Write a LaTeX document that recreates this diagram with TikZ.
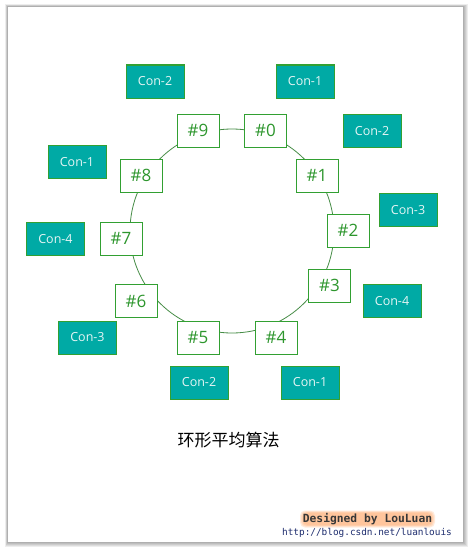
\documentclass[tikz,border=0pt]{standalone}
\usepackage{fontspec}
\setmainfont{Open Sans}
\newfontfamily\cjkfont{Noto Sans CJK SC}
\newfontfamily\wmfont{DejaVu Sans Mono}
\definecolor{boxgreen}{RGB}{50,160,50}
\definecolor{hashgreen}{RGB}{45,150,45}
\definecolor{ringgreen}{RGB}{70,140,70}
\definecolor{tealfill}{RGB}{0,170,165}
\definecolor{context}{RGB}{230,245,245}
\definecolor{glow}{RGB}{255,165,100}
\definecolor{wmdark}{RGB}{55,55,55}
\definecolor{urlblue}{RGB}{30,45,110}
\begin{document}
\begin{tikzpicture}[x=1pt,y=-1pt,
  hashbox/.style={draw=boxgreen, line width=1pt, fill=white, minimum width=42pt, minimum height=33pt, inner sep=0pt, text=hashgreen, font=\fontsize{17}{17}\selectfont},
  conbox/.style={draw=boxgreen, line width=1pt, fill=tealfill, minimum width=58pt, minimum height=33pt, inner sep=0pt, text=context, font=\fontsize{12.5}{12.5}\selectfont},
  glowlayer/.style={fill=glow, opacity=0.22, rounded corners=5pt}]
\useasboundingbox (0,0) rectangle (471,551);
\fill[white] (0,0) rectangle (471,551);
% panel shadow
\foreach \i in {5,4,3,2,1} {
  \fill[black, opacity=0.07] (8-\i*0.6,7-\i*0.6) rectangle (463+\i,542+\i);
}
\fill[white] (8,7) rectangle (463,542);
% ring
\draw[ringgreen, line width=0.8pt] (232,231) circle[radius=102pt];
% hash nodes
\node[hashbox] (n9) at (198,130.5) {\#9};
\node[hashbox] (n0) at (265.5,130.5) {\#0};
\node[hashbox] (n1) at (317,175.5) {\#1};
\node[hashbox] (n2) at (348,230.5) {\#2};
\node[hashbox] (n3) at (329.5,285.5) {\#3};
\node[hashbox] (n4) at (276,337.5) {\#4};
\node[hashbox] (n5) at (198,337.5) {\#5};
\node[hashbox] (n6) at (136,301) {\#6};
\node[hashbox] (n7) at (121,238.5) {\#7};
\node[hashbox] (n8) at (141,175.5) {\#8};
% consumer boxes
\node[conbox] (ca) at (155,81.5) {Con-2};
\node[conbox] (cb) at (305,81.5) {Con-1};
\node[conbox] (cc) at (372,131) {Con-2};
\node[conbox] (cd) at (408,210) {Con-3};
\node[conbox] (ce) at (392,301) {Con-4};
\node[conbox] (cf) at (310,382.5) {Con-1};
\node[conbox] (cg) at (199,382.5) {Con-2};
\node[conbox] (ch) at (87.5,337.5) {Con-3};
\node[conbox] (ci) at (55.5,239) {Con-4};
\node[conbox] (cj) at (77,162) {Con-1};
% title
\node[font=\cjkfont\fontsize{17}{17}\selectfont, text=black] (title) at (228.5,440) {环形平均算法};
% watermark glow
\foreach \i in {0,1,2,3} {
  \fill[glowlayer] (300+\i,510.5+\i*0.8) rectangle (435-\i,527.5-\i*0.8);
}
\node[font=\wmfont\bfseries\fontsize{11.3}{11.3}\selectfont, text=wmdark, inner sep=0pt] (wm) at (367.5,519) {Designed by LouLuan};
\node[font=\wmfont\fontsize{9.4}{9.4}\selectfont, text=urlblue, inner sep=0pt] (url) at (367,533) {http://blog.csdn.net/luanlouis};
\end{tikzpicture}
\end{document}
